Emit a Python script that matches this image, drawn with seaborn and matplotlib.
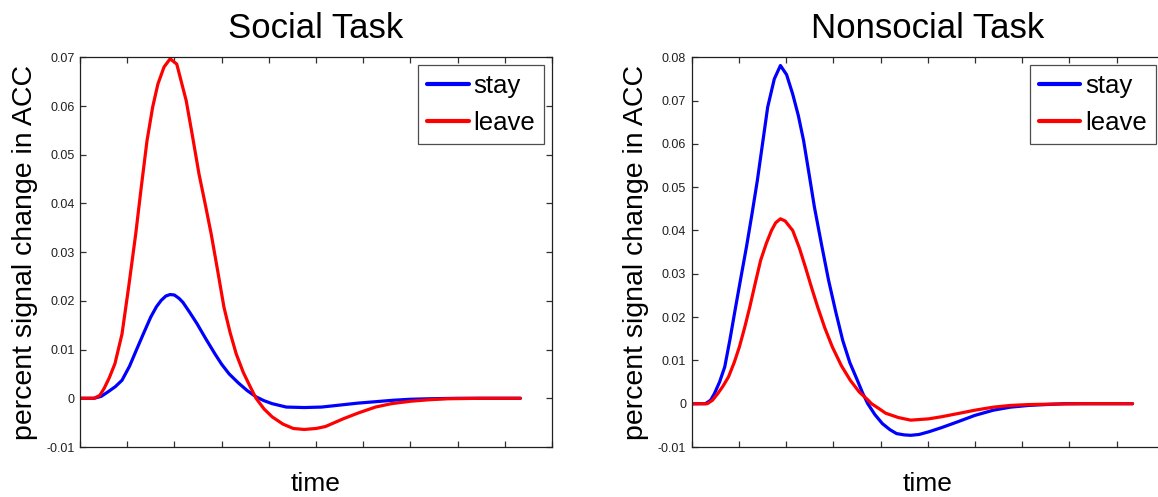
import matplotlib
matplotlib.use("Agg")
import matplotlib.pyplot as plt
import seaborn as sns
import pandas as pd
from matplotlib.ticker import FixedLocator, FixedFormatter

# ---------------- data ----------------
titles = ["Social Task", "Nonsocial Task"]
series_names = ["stay", "leave"]

soc_stay_t = [0, 0.3, 0.45, 0.59, 0.75, 0.89, 1.05, 1.19, 1.35, 1.50, 1.62, 1.72, 1.82, 1.91,
              2.00, 2.10, 2.18, 2.32, 2.48, 2.66, 2.86, 3.0, 3.16, 3.35, 3.54, 3.73, 3.9, 4.07,
              4.37, 4.75, 5.12, 5.5, 5.88, 6.26, 6.64, 7.0, 7.39, 8.0, 8.6, 9.33]
soc_stay_v = [0, 0, 0.0004, 0.0013, 0.0024, 0.0037, 0.0066, 0.0098, 0.0134, 0.0167, 0.0188,
              0.0201, 0.0210, 0.0213, 0.0212, 0.0205, 0.0197, 0.0177, 0.0153, 0.0123, 0.0091,
              0.0070, 0.0050, 0.0032, 0.0016, 0.0003, -0.0005, -0.0011, -0.0018, -0.0019,
              -0.0018, -0.0014, -0.0010, -0.0007, -0.0004, -0.0002, -0.0001, 0, 0, 0]

soc_leave_t = [0, 0.3, 0.42, 0.51, 0.62, 0.74, 0.89, 1.03, 1.18, 1.30, 1.42, 1.54, 1.65, 1.78,
               1.91, 2.05, 2.25, 2.38, 2.52, 2.65, 2.78, 2.92, 3.05, 3.18, 3.31, 3.46, 3.61,
               3.73, 3.9, 4.07, 4.3, 4.52, 4.75, 5.0, 5.2, 5.58, 5.9, 6.26, 6.6, 7.01, 7.4,
               7.77, 8.5, 9.33]
soc_leave_v = [0, 0, 0.0006, 0.0020, 0.0042, 0.0071, 0.0132, 0.0228, 0.0337, 0.0435, 0.0529,
               0.0598, 0.0645, 0.0680, 0.0697, 0.0686, 0.0611, 0.0540, 0.0461, 0.0400, 0.0337,
               0.0260, 0.0187, 0.0135, 0.0091, 0.0053, 0.0023, 0.0, -0.0022, -0.0038, -0.0053,
               -0.0062, -0.0064, -0.0062, -0.0058, -0.0042, -0.0030, -0.0018, -0.0011, -0.0006,
               -0.0003, -0.0001, 0, 0]

non_stay_t = [0, 0.29, 0.40, 0.48, 0.59, 0.70, 0.81, 0.93, 1.04, 1.16, 1.28, 1.39, 1.50, 1.61,
              1.75, 1.88, 2.01, 2.14, 2.26, 2.37, 2.48, 2.60, 2.75, 2.90, 3.05, 3.20, 3.35,
              3.51, 3.62, 3.73, 3.88, 4.04, 4.2, 4.34, 4.5, 4.64, 4.82, 5.02, 5.3, 5.63, 6.0,
              6.39, 6.75, 7.14, 7.5, 7.9, 8.6, 9.34]
non_stay_v = [0, 0, 0.0008, 0.0023, 0.0050, 0.0085, 0.0148, 0.0223, 0.0290, 0.0362, 0.0440,
              0.0515, 0.0600, 0.0685, 0.0750, 0.0781, 0.0760, 0.0715, 0.0665, 0.0608, 0.0535,
              0.0454, 0.0368, 0.0285, 0.0213, 0.0146, 0.0095, 0.0054, 0.0025, 0.0, -0.0025,
              -0.0046, -0.0060, -0.0069, -0.0072, -0.0073, -0.0071, -0.0065, -0.0055, -0.0042,
              -0.0027, -0.0015, -0.0008, -0.0004, -0.0002, 0, 0, 0]

non_leave_t = [0, 0.33, 0.44, 0.55, 0.66, 0.78, 0.90, 1.01, 1.12, 1.23, 1.35, 1.46, 1.58, 1.69,
               1.78, 1.88, 1.98, 2.14, 2.28, 2.41, 2.54, 2.67, 2.82, 2.98, 3.17, 3.36, 3.55,
               3.73, 3.81, 3.95, 4.11, 4.38, 4.64, 5.02, 5.3, 5.63, 6.0, 6.39, 6.75, 7.14, 7.6,
               8.3, 9.34]
non_leave_v = [0, 0, 0.0008, 0.0023, 0.0040, 0.0062, 0.0095, 0.0131, 0.0175, 0.0223, 0.0280,
               0.0331, 0.0370, 0.0400, 0.0418, 0.0427, 0.0422, 0.0400, 0.0360, 0.0315, 0.0268,
               0.0223, 0.0175, 0.0131, 0.0088, 0.0054, 0.0027, 0.0009, 0.0, -0.0010, -0.0022,
               -0.0032, -0.0038, -0.0035, -0.0030, -0.0023, -0.0015, -0.0008, -0.0004, -0.0002,
               -0.0001, 0, 0]

soc_yticks = [-0.01, 0, 0.01, 0.02, 0.03, 0.04, 0.05, 0.06, 0.07]
soc_yticklabels = ["-0.01", "0", "0.01", "0.02", "0.03", "0.04", "0.05", "0.06", "0.07"]
non_yticks = [-0.01, 0, 0.01, 0.02, 0.03, 0.04, 0.05, 0.06, 0.07, 0.08]
non_yticklabels = ["-0.01", "0", "0.01", "0.02", "0.03", "0.04", "0.05", "0.06", "0.07", "0.08"]
xticks = [0, 1, 2, 3, 4, 5, 6, 7, 8, 9, 10]

ylabel_text = "percent signal change in ACC"
xlabel_text = "time"

# ---------------- styling ----------------
sns.set_style("white")
plt.rcParams["font.family"] = ["Liberation Sans", "DejaVu Sans"]
plt.rcParams["axes.unicode_minus"] = False
plt.rcParams["text.color"] = "black"
plt.rcParams["axes.labelcolor"] = "black"

colors = {"stay": "#0000ff", "leave": "#ff0000"}

fig = plt.figure(figsize=(11.58, 4.97), dpi=100)
W, H = 1158, 497
ax_left = fig.add_axes([80 / W, (H - 447) / H, 472 / W, 389.7 / H])
ax_right = fig.add_axes([691.7 / W, (H - 447) / H, 472 / W, 389.7 / H])

panels = [
    (ax_left, titles[0], [(soc_stay_t, soc_stay_v), (soc_leave_t, soc_leave_v)],
     (-0.01, 0.07), soc_yticks, soc_yticklabels),
    (ax_right, titles[1], [(non_stay_t, non_stay_v), (non_leave_t, non_leave_v)],
     (-0.01, 0.08), non_yticks, non_yticklabels),
]

for ax, title, data, ylim, yt, ytl in panels:
    for name, (t, v) in zip(series_names, data):
        df = pd.DataFrame({"time": t, "value": v})
        sns.lineplot(data=df, x="time", y="value", ax=ax, color=colors[name],
                     linewidth=2.3, label=name, sort=False, estimator=None)
    ax.set_xlim(0, 10)
    ax.set_ylim(*ylim)
    ax.xaxis.set_major_locator(FixedLocator(xticks))
    ax.xaxis.set_major_formatter(FixedFormatter([""] * len(xticks)))
    ax.yaxis.set_major_locator(FixedLocator(yt))
    ax.yaxis.set_major_formatter(FixedFormatter(ytl))
    ax.tick_params(axis="both", which="both", direction="in", length=4, width=0.9,
                   color="#303030", top=True, right=True, bottom=True, left=True)
    ax.tick_params(axis="y", labelsize=9, pad=4, labelcolor="#202020")
    for sp in ax.spines.values():
        sp.set_visible(True)
        sp.set_color("#202020")
        sp.set_linewidth(0.9)
    ax.set_title(title, fontsize=25, pad=14, color="black")
    ax.set_xlabel(xlabel_text, fontsize=19, labelpad=14.5, color="black")
    ax.set_ylabel(ylabel_text, fontsize=20.5, labelpad=6, color="black")
    leg = ax.legend(loc="upper right", bbox_to_anchor=(0.984, 0.981), borderaxespad=0,
                    fontsize=18.5, frameon=True, fancybox=False, edgecolor="#202020",
                    handlelength=1.62, handletextpad=0.2, borderpad=0.35,
                    labelspacing=0.5)
    leg.get_frame().set_linewidth(0.9)
    for line in leg.get_lines():
        line.set_linewidth(3)
    for txt in leg.get_texts():
        txt.set_color("black")

fig.savefig("out.png", dpi=100)
